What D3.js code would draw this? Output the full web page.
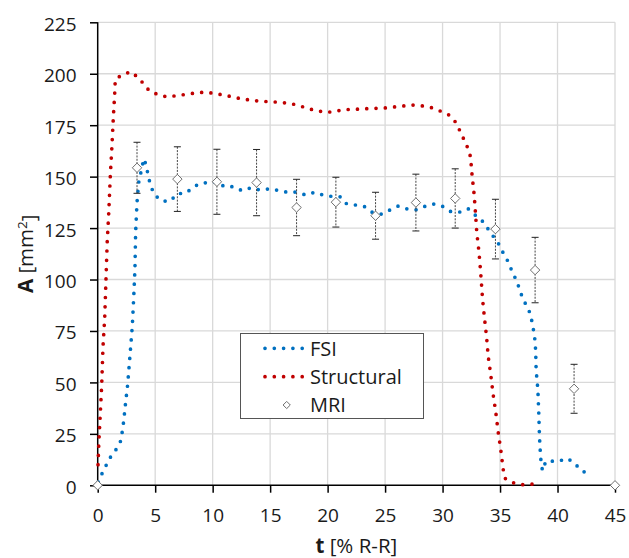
<!DOCTYPE html>
<html>
<head>
<meta charset="utf-8">
<script src="https://cdn.jsdelivr.net/npm/d3@7/dist/d3.min.js"></script>
<style>
  html, body { margin: 0; padding: 0; background: #fff; }
  svg { display: block; font-family: "Open Sans", "Noto Sans", sans-serif; }
</style>
</head>
<body>
<svg id="chart" width="629" height="558"></svg>
<script>
// FSI cross-sectional area over the cycle
const fsiT = [0.05, 0.4, 0.78, 1.16, 1.65, 2.03, 2.26, 2.43, 2.61, 2.81, 3.01, 3.13, 3.24, 3.3, 3.42, 3.56, 3.74, 3.88, 4.05, 4.26, 4.43, 4.63, 4.98, 5.62, 6.31, 6.92, 7.68, 8.29, 8.87, 9.62, 10.37, 11.04, 11.79, 12.55, 13.33, 14.11, 14.96, 15.74, 16.52, 17.3, 18.09, 18.87, 19.59, 20.35, 21.12, 21.65, 22.43, 23.22, 23.88, 24.66, 25.42, 26.14, 26.92, 27.7, 28.49, 29.24, 29.99, 30.72, 31.5, 32.22, 32.9, 33.48, 33.97, 34.46, 34.9, 35.27, 35.68, 36.01, 36.35, 36.66, 36.92, 37.27, 37.62, 37.79, 37.94, 38.05, 38.1, 38.14, 38.29, 38.37, 38.43, 38.52, 38.6, 38.7, 38.98, 39.42, 40.08, 40.87, 41.48, 42.09, 42.84];
const fsiA = [1.5, 6, 10.2, 14.2, 17.8, 21.9, 31.1, 40.3, 49.2, 63.2, 77.3, 91, 105, 123, 137.5, 147, 151.6, 155.6, 158.7, 154.2, 149.5, 145.1, 140.9, 138.1, 138.1, 141.7, 142, 144.8, 146.6, 147.2, 147.4, 145.1, 145.1, 143.2, 144.6, 143.5, 144.1, 143.3, 142.4, 142.5, 141.1, 142.4, 141.1, 140.4, 140.2, 136.8, 136.2, 135.4, 132.7, 131.8, 133.8, 135.7, 134.3, 133.9, 135.6, 136.7, 135.6, 133, 132.8, 134.4, 131, 128.3, 124.5, 120.6, 117.1, 113, 108.9, 104.5, 100.4, 96, 91.6, 87.6, 83.6, 79.2, 74.5, 70, 65, 56, 46.5, 35, 23.6, 14.4, 9.7, 7.1, 11.7, 11.7, 11.7, 13.1, 10.7, 7.1, 5.3];

// Structural model area
const strT = [0.03, 0.1, 0.23, 0.35, 0.46, 0.61, 0.72, 0.83, 0.96, 1.1, 1.24, 1.36, 1.48, 1.53, 2.11, 2.87, 3.44, 3.97, 4.49, 5.18, 6.0, 6.83, 7.68, 8.49, 9.3, 10.11, 10.92, 11.77, 12.57, 13.42, 14.23, 15.07, 15.88, 16.72, 17.5, 18.31, 19.13, 19.94, 20.75, 21.57, 22.4, 23.24, 24.05, 24.9, 25.74, 26.55, 27.39, 28.2, 29.04, 29.79, 30.52, 31.1, 31.48, 31.83, 32.17, 32.43, 32.57, 32.75, 32.87, 32.98, 33.16, 33.3, 33.48, 33.65, 33.83, 33.97, 34.2, 34.4, 34.63, 34.83, 35.07, 35.27, 35.42, 36.09, 36.87, 37.7, 38.52];
const strA = [10, 21, 35.3, 48.9, 67.3, 81.4, 100, 118.6, 132.3, 150.8, 164.9, 178.8, 190.5, 197.3, 199.4, 201, 198.5, 195.3, 191.7, 190, 188.8, 189.3, 190, 190.6, 191.1, 190.5, 189.7, 188.7, 187.7, 187.1, 186.6, 186.4, 186.1, 185.6, 184.6, 183, 182, 181.2, 181.9, 182.6, 182.7, 183, 183.2, 183.3, 183.8, 184.3, 184.8, 184.4, 183.5, 181.9, 180.1, 176.7, 172.6, 168.4, 164.2, 159.7, 150.5, 141.2, 131.8, 122.6, 113.8, 104.5, 90.4, 81.1, 71.9, 62.7, 53.4, 44.2, 35.5, 26.2, 17, 7.9, 3.4, 1.3, 0.3, 0.5, 1.1];

// MRI measurements with standard deviation
const mriT = [0, 3.42, 6.93, 10.37, 13.82, 17.3, 20.72, 24.17, 27.68, 31.1, 34.6, 38.05, 41.44, 45];
const mriA = [0, 154.3, 148.8, 147.5, 147.1, 135, 137.6, 131, 137.4, 139.4, 124.5, 104.6, 46.9, 0];
const mriErr = [0, 12.4, 15.7, 15.8, 16.1, 13.7, 12.1, 11.4, 13.8, 14.4, 14.5, 15.9, 11.9, 0];

const xTicks = [0, 5, 10, 15, 20, 25, 30, 35, 40, 45];
const yTicks = [0, 25, 50, 75, 100, 125, 150, 175, 200, 225];

const seriesNames = ["FSI", "Structural", "MRI"];
const blue = "#0070C0", red = "#C00000";

const svg = d3.select("#chart");
const x = d3.scaleLinear().domain([0, 45]).range([97.7, 615]);
const y = d3.scaleLinear().domain([0, 225]).range([485.3, 22.3]);

// gridlines
const grid = svg.append("g").attr("stroke", "#d9d9d9").attr("stroke-width", 1.3);
grid.selectAll("line.h").data(yTicks.filter(d => d > 0)).join("line")
  .attr("x1", x(0)).attr("x2", x(45)).attr("y1", d => y(d)).attr("y2", d => y(d));
grid.selectAll("line.v").data(xTicks.filter(d => d > 0)).join("line")
  .attr("x1", d => x(d)).attr("x2", d => x(d)).attr("y1", y(0)).attr("y2", y(225));

// axes
const textColor = "#1a1a1a";
const yAxis = svg.append("g").attr("transform", `translate(${x(0)},0)`)
  .call(d3.axisLeft(y).tickValues(yTicks).tickSize(7.7).tickPadding(13.5));
const xAxis = svg.append("g").attr("transform", `translate(0,${y(0)})`)
  .call(d3.axisBottom(x).tickValues(xTicks).tickSize(7.4).tickPadding(15.5));
[xAxis, yAxis].forEach(a => {
  a.select(".domain").attr("stroke", "#000").attr("stroke-width", 1.5);
  a.selectAll(".tick line").attr("stroke", "#000").attr("stroke-width", 1.5);
  a.selectAll(".tick text").attr("fill", textColor).style("font-size", "19px")
    .style("font-family", "'Open Sans', sans-serif");
});
yAxis.selectAll(".tick text").attr("dy", "0.42em");
yAxis.select(".domain").attr("d", `M0,${y(225)}V${y(0)}`);
xAxis.select(".domain").attr("d", `M${x(0)},0H${x(45)}`);

// dotted series lines
const line = d3.line().x(d => x(d[0])).y(d => y(d[1]));
const dotted = sel => sel.attr("fill", "none").attr("stroke-width", 3.7)
  .attr("stroke-linecap", "round").attr("stroke-dasharray", "0 9.3");

svg.append("path").datum(fsiT.map((t, i) => [t, fsiA[i]]))
  .attr("d", line).attr("stroke", blue).call(dotted);
svg.append("path").datum(strT.map((t, i) => [t, strA[i]]))
  .attr("d", line).attr("stroke", red).call(dotted);

// MRI error bars
const mri = mriT.map((t, i) => ({ t, a: mriA[i], e: mriErr[i] })).filter(d => d.e > 0);
const eb = svg.append("g");
eb.selectAll("line.bar").data(mri).join("line")
  .attr("x1", d => x(d.t)).attr("x2", d => x(d.t))
  .attr("y1", d => y(d.a + d.e)).attr("y2", d => y(d.a - d.e))
  .attr("stroke", "#444").attr("stroke-width", 1).attr("stroke-dasharray", "2 1.3");
["top", "bottom"].forEach(k => {
  eb.selectAll("line.cap" + k).data(mri).join("line")
    .attr("x1", d => x(d.t) - 3.5).attr("x2", d => x(d.t) + 3.5)
    .attr("y1", d => y(k === "top" ? d.a + d.e : d.a - d.e))
    .attr("y2", d => y(k === "top" ? d.a + d.e : d.a - d.e))
    .attr("stroke", "#222").attr("stroke-width", 1);
});

// MRI diamonds
const diamond = r => `M0,${-r}L${r},0L0,${r}L${-r},0Z`;
svg.append("g").selectAll("path").data(mriT.map((t, i) => [t, mriA[i]])).join("path")
  .attr("d", diamond(4.7))
  .attr("transform", d => `translate(${x(d[0])},${y(d[1])})`)
  .attr("fill", "#fff").attr("stroke", "#6e6e6e").attr("stroke-width", 1);

// legend
const lg = svg.append("g");
lg.append("rect").attr("x", 240.5).attr("y", 333.5).attr("width", 183).attr("height", 85)
  .attr("fill", "#fff").attr("stroke", "#555").attr("stroke-width", 1);
const rows = [348.3, 376.7, 405];
[blue, red].forEach((c, i) => {
  lg.append("path").attr("d", `M265,${rows[i]}H303`).attr("stroke", c).call(dotted);
});
lg.append("path").attr("d", diamond(3.6)).attr("transform", `translate(286.7,${rows[2]})`)
  .attr("fill", "#fff").attr("stroke", "#6e6e6e").attr("stroke-width", 1);
lg.selectAll("text").data(seriesNames).join("text")
  .attr("x", 310).attr("y", (d, i) => rows[i]).attr("dy", "0.36em")
  .attr("fill", textColor).style("font-size", "20px").text(d => d);

// axis titles
const xt = svg.append("text").attr("x", x(22.5)).attr("y", 553)
  .attr("text-anchor", "middle").attr("fill", textColor).style("font-size", "20.5px");
xt.append("tspan").attr("font-weight", "bold").text("t");
xt.append("tspan").text(" [% R-R]");

const yt = svg.append("text").attr("transform", `translate(33,${y(112.5)}) rotate(-90)`)
  .attr("text-anchor", "middle").attr("fill", textColor).style("font-size", "20.5px");
yt.append("tspan").attr("font-weight", "bold").text("A");
yt.append("tspan").text(" [mm");
yt.append("tspan").attr("dy", "-0.45em").style("font-size", "13.5px").text("2");
yt.append("tspan").attr("dy", "0.45em").text("]");
</script>
</body>
</html>
